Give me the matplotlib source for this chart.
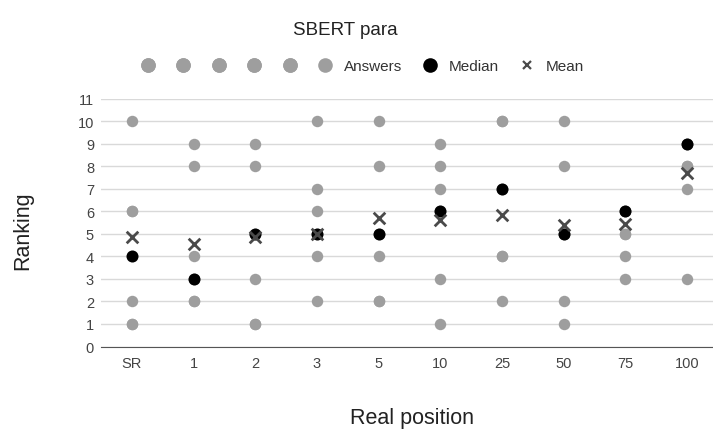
import matplotlib.pyplot as plt
from matplotlib.lines import Line2D

# positions on the x axis
categories = ['SR', '1', '2', '3', '5', '10', '25', '50', '75', '100']

# six answer series (one dot per position each)
answers_1 = [10, 9, 9, 10, 10, 9, 10, 10, 5, 8]
answers_2 = [6, 8, 8, 7, 8, 8, 4, 8, 4, 7]
answers_3 = [2, 4, 3, 6, 4, 7, 2, 2, 3, 3]
answers_4 = [1, 2, 1, 4, 2, 3, 7, 1, 5, 8]
answers_5 = [6, 3, 5, 2, 5, 1, 10, 5, 6, 9]
answers_6 = [1, 2, 1, 5, 2, 6, 4, 5, 6, 9]

median = [4, 3, 5, 5, 5, 6, 7, 5, 6, 9]
mean = [4.85, 4.55, 4.85, 5.0, 5.7, 5.6, 5.85, 5.4, 5.45, 7.7]

plt.rcParams['font.family'] = ['Liberation Sans', 'DejaVu Sans']

W, H = 713, 435
fig = plt.figure(figsize=(7.13, 4.35), dpi=100)
ax = fig.add_axes([101 / W, 1 - 347.5 / H, 1 - 101 / W, (347.5 - 99.5) / H])

x = list(range(len(categories)))
grey = '#9e9e9e'

for s in [answers_1, answers_2, answers_3, answers_4, answers_5, answers_6]:
    ax.scatter(x, s, s=68, color=grey, zorder=3, linewidths=0)
ax.scatter(x, median, s=75, color='black', zorder=4, linewidths=0)
ax.scatter(x, mean, s=70, marker='x', color='#4a4a4a', linewidths=2.0, zorder=5)

ax.set_xlim(-0.5, 9.42)
ax.set_ylim(0, 11)
ax.set_yticks(range(0, 12))
ax.set_xticks(x)
ax.set_xticklabels(categories)
ax.tick_params(length=0, labelsize=10.5, colors='#444444')
ax.tick_params(axis='x', pad=7)
ax.tick_params(axis='y', pad=5)
ax.grid(axis='y', color='#d9d9d9', linewidth=1)
ax.set_axisbelow(True)
for side in ['top', 'right', 'left']:
    ax.spines[side].set_visible(False)
ax.spines['bottom'].set_color('#555555')
ax.spines['bottom'].set_zorder(2)

fig.text(0.484, 0.93, 'SBERT para', ha='center', va='center', fontsize=13.5, color='#222222')
fig.text(0.032, 0.469, 'Ranking', rotation=90, ha='center', va='center', fontsize=15.5, color='#222222')
fig.text(0.578, 0.039, 'Real position', ha='center', va='center', fontsize=15.5, color='#222222')

# legend: five unlabeled answer dots, then Answers / Median / Mean
dot = dict(marker='o', linestyle='none', markersize=10.5, markeredgewidth=0)
g = Line2D([], [], color=grey, **dot)
b = Line2D([], [], color='black', **dot)
m = Line2D([], [], marker='x', linestyle='none', color='#4a4a4a', markersize=6, markeredgewidth=1.6)

fs = 11
fspx = fs * 100 / 72
leg1 = fig.legend([g] * 5, [''] * 5, loc='center left',
                  bbox_to_anchor=((148 - fspx / 2) / W, 1 - 67 / H), ncol=5,
                  frameon=False, fontsize=fs, handlelength=1.0, handletextpad=0.1,
                  columnspacing=1.22, borderpad=0, borderaxespad=0)
fig.add_artist(leg1)
fig.legend([g, b, m], ['Answers', 'Median', 'Mean'], loc='center left',
           bbox_to_anchor=((325 - fspx / 2) / W, 1 - 67 / H), ncol=3,
           frameon=False, fontsize=fs, handlelength=1.0, handletextpad=0.74,
           columnspacing=1.33, borderpad=0, borderaxespad=0, labelcolor='#333333')

fig.savefig('out.png', dpi=100)
